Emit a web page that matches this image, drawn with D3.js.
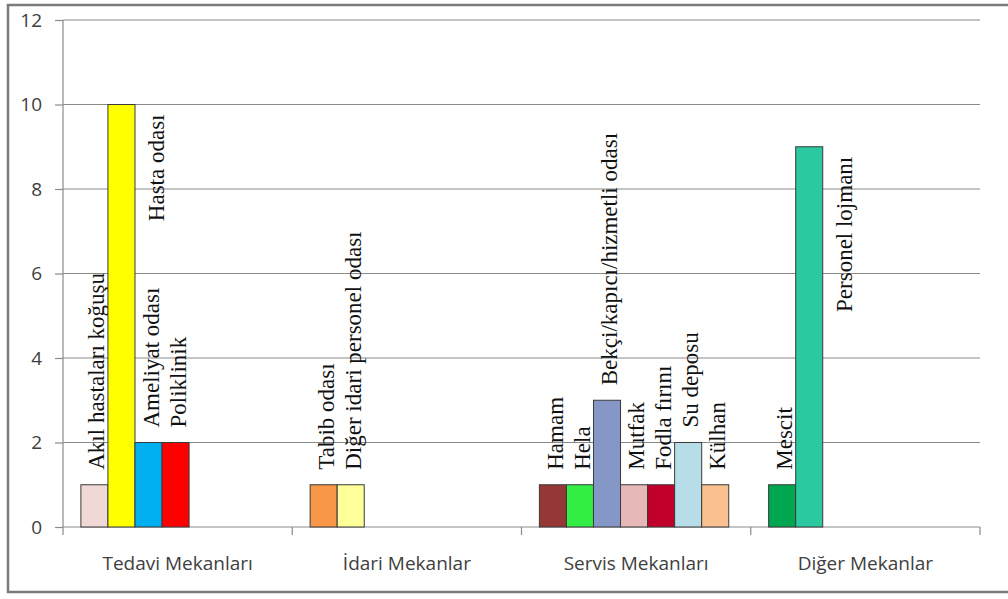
<!DOCTYPE html>
<meta charset="utf-8">
<style>
body { margin: 0; background: #fff; }
.grid line { stroke: #8a8a8a; stroke-width: 1.2; }
.axis text { font-family: "Open Sans", sans-serif; font-size: 19px; fill: #404040; }
.axis path, .axis line { stroke: #8a8a8a; stroke-width: 1.2; }
.lbl { font-family: "Liberation Serif", "Times New Roman", serif; font-size: 23px; fill: #111; }
</style>
<svg width="1008" height="599"></svg>
<script src="https://d3js.org/d3.v7.min.js"></script>
<script>
var categories = ["Tedavi Mekanları", "İdari Mekanlar", "Servis Mekanları", "Diğer Mekanlar"];
var tedavi = [
	{ name: "Akıl hastaları koğuşu", value: 1, color: "#f0d9d5" },
	{ name: "Hasta odası", value: 10, color: "#ffff00" },
	{ name: "Ameliyat odası", value: 2, color: "#00b0f0" },
	{ name: "Poliklinik", value: 2, color: "#ff0000" }
];
var idari = [
	{ name: "Tabib odası", value: 1, color: "#f79646" },
	{ name: "Diğer idari personel odası", value: 1, color: "#ffff99" }
];
var servis = [
	{ name: "Hamam", value: 1, color: "#953735" },
	{ name: "Hela", value: 1, color: "#33ee44" },
	{ name: "Bekçi/kapıcı/hizmetli odası", value: 3, color: "#8497c6" },
	{ name: "Mutfak", value: 1, color: "#e6b9b8" },
	{ name: "Fodla fırını", value: 1, color: "#c0002a" },
	{ name: "Su deposu", value: 2, color: "#b7dee8" },
	{ name: "Külhan", value: 1, color: "#fac090" }
];
var diger = [
	{ name: "Mescit", value: 1, color: "#00a650" },
	{ name: "Personel lojmanı", value: 9, color: "#2bc9a0" }
];
var groups = [tedavi, idari, servis, diger];
var yTicks = [0, 2, 4, 6, 8, 10, 12];

var svg = d3.select("svg");

// outer frame
svg.append("rect")
	.attr("x", 8).attr("y", 5)
	.attr("width", 1010).attr("height", 587)
	.attr("fill", "none")
	.attr("stroke", "#7a7a7a")
	.attr("stroke-width", 2.5);

var plotL = 63, plotR = 980, plotT = 20, plotB = 527;

var x = d3.scaleBand().domain(categories).range([plotL, plotR]);
var y = d3.scaleLinear().domain([0, 12]).range([plotB, plotT]);

var barW = x.bandwidth() * 0.118;
var barOff = x.bandwidth() * 0.078;

svg.append("g")
	.attr("class", "grid")
	.selectAll("line")
	.data(yTicks.slice(1))
	.enter().append("line")
	.attr("x1", plotL).attr("x2", plotR)
	.attr("y1", function(d) { return y(d); })
	.attr("y2", function(d) { return y(d); });

svg.append("g")
	.attr("class", "axis")
	.attr("transform", "translate(" + plotL + ",0)")
	.call(d3.axisLeft(y).tickValues(yTicks).tickSize(8).tickPadding(13))
	.call(function(g) { g.select(".domain").attr("d", "M0," + plotB + "V" + plotT); });

var xa = svg.append("g")
	.attr("class", "axis")
	.attr("transform", "translate(0," + plotB + ")");
xa.append("line").attr("x1", plotL).attr("x2", plotR);
xa.selectAll(".tk")
	.data(d3.range(categories.length + 1))
	.enter().append("line")
	.attr("class", "tk")
	.attr("x1", function(i) { return plotL + i * x.step(); })
	.attr("x2", function(i) { return plotL + i * x.step(); })
	.attr("y1", 0).attr("y2", 8);
xa.selectAll("text")
	.data(categories)
	.enter().append("text")
	.attr("x", function(d) { return x(d) + x.bandwidth() / 2; })
	.attr("y", 43)
	.attr("text-anchor", "middle")
	.text(function(d) { return d; });

groups.forEach(function(items, gi) {
	var cat = categories[gi];
	var g = svg.append("g");
	items.forEach(function(d, i) {
		var bx = x(cat) + barOff + i * barW;
		g.append("rect")
			.attr("x", bx)
			.attr("y", y(d.value))
			.attr("width", barW)
			.attr("height", y(0) - y(d.value))
			.attr("fill", d.color)
			.attr("stroke", "#3a3a3a")
			.attr("stroke-width", 1);

		var cx = bx + barW / 2;
		var t = g.append("text")
			.attr("class", "lbl")
			.text(d.name);
		if (d.value >= 8) {
			// too tall: label sits beside the bar, hanging from its top
			var lx = bx + barW + 29, ly = y(d.value) + 10;
			t.attr("text-anchor", "end")
				.attr("transform", "translate(" + lx + "," + ly + ") rotate(-90)");
		} else {
			var lx2 = cx + 10, ly2 = y(d.value) - 15;
			t.attr("text-anchor", "start")
				.attr("transform", "translate(" + lx2 + "," + ly2 + ") rotate(-90)");
		}
	});
});
</script>
